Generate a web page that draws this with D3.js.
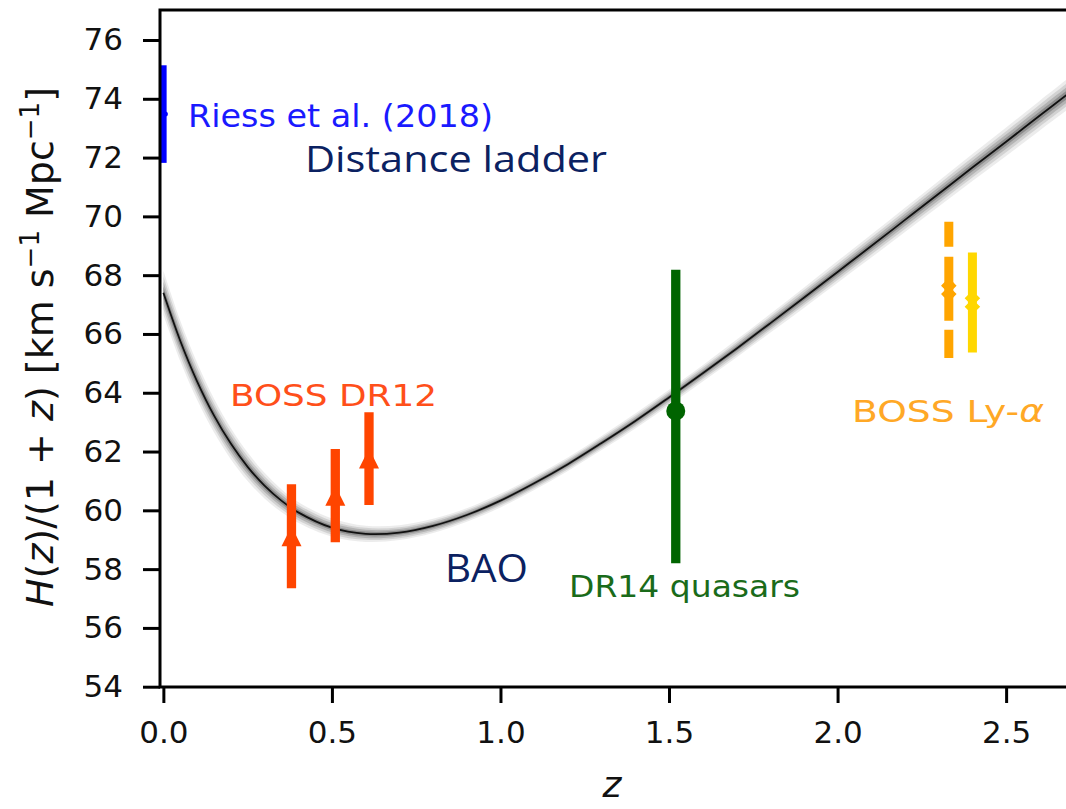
<!DOCTYPE html>
<html>
<head>
<meta charset="utf-8">
<script src="https://cdn.jsdelivr.net/npm/d3@7"></script>
<style>
  html, body { margin: 0; padding: 0; background: #fff; }
  svg { display: block; }
  text { font-family: "DejaVu Sans", sans-serif; }
</style>
</head>
<body>
<svg id="chart" width="1066" height="809"></svg>
<script>
// ---- tick values ----
const yTicks = [54, 56, 58, 60, 62, 64, 66, 68, 70, 72, 74, 76];
const xTicks = [0.0, 0.5, 1.0, 1.5, 2.0, 2.5];

// ---- best-fit model curve H(z)/(1+z) and its uncertainty half-width ----
const curveZ = [0.00, 0.05, 0.10, 0.15, 0.20, 0.25, 0.30, 0.35, 0.40, 0.50, 0.60, 0.70, 0.80, 0.90,
                1.00, 1.10, 1.20, 1.30, 1.40, 1.50, 1.60, 1.70, 1.80, 1.90, 2.00, 2.10, 2.20,
                2.30, 2.40, 2.50, 2.60, 2.70];
const curveH = [67.40, 65.77, 64.39, 63.23, 62.27, 61.48, 60.84, 60.33, 59.93, 59.41, 59.20, 59.24,
                59.47, 59.84, 60.33, 60.92, 61.57, 62.29, 63.04, 63.84, 64.66, 65.50, 66.36, 67.23,
                68.11, 68.99, 69.88, 70.77, 71.66, 72.54, 73.43, 74.31];
const bandHalf = [0.65, 0.60, 0.55, 0.50, 0.46, 0.42, 0.38, 0.34, 0.31, 0.27, 0.24, 0.22,
                  0.21, 0.20, 0.20, 0.20, 0.20, 0.21, 0.22, 0.23, 0.24, 0.26, 0.28, 0.30,
                  0.32, 0.34, 0.36, 0.38, 0.40, 0.42, 0.44, 0.46];

// ---- distance ladder (Riess et al. 2018) ----
const riessZ = [0.0];
const riessH = [73.48];
const riessErr = [1.66];

// ---- BOSS DR12 galaxy BAO ----
const bossZ = [0.38, 0.51, 0.61];
const bossH = [59.12, 60.50, 61.76];
const bossErr = [1.77, 1.59, 1.58];

// ---- DR14 quasars ----
const qsoZ = [1.52];
const qsoH = [63.38];
const qsoErrLow = [5.18];
const qsoErrHigh = [4.80];

// ---- BOSS Lyman-alpha (auto- and cross-correlation) ----
const lyaZ = [2.33, 2.40];
const lyaH = [67.50, 67.07];
const lyaErr = [2.32, 1.70];
const lyaColors = ["#ffa500", "#ffd700"];

// ---- layout ----
const svg = d3.select("#chart");
const plotLeft = 160, plotTop = 10, plotBottom = 687;

const x = d3.scaleLinear().domain([-0.01, 2.7]).range([plotLeft, plotLeft + 2.71 * 337.1]);
const y = d3.scaleLinear().domain([54, 76]).range([686.7, 40]);

svg.append("defs").append("clipPath").attr("id", "plotClip")
  .append("rect")
  .attr("x", plotLeft).attr("y", plotTop)
  .attr("width", 1066 - plotLeft).attr("height", plotBottom - plotTop);

const plot = svg.append("g").attr("clip-path", "url(#plotClip)");

// ---- uncertainty band around the model curve (soft, layered) ----
const curvePts = curveZ.map((z, i) => ({ z, h: curveH[i], b: bandHalf[i] }));
const smooth = d3.curveCatmullRom.alpha(0.5);
const bandLayers = [
  { k: 1.15, op: 0.10 },
  { k: 0.85, op: 0.15 },
  { k: 0.58, op: 0.22 },
  { k: 0.32, op: 0.34 }
];
bandLayers.forEach(L => {
  plot.append("path")
    .datum(curvePts)
    .attr("fill", "#444")
    .attr("fill-opacity", L.op)
    .attr("d", d3.area()
      .curve(smooth)
      .x(d => x(d.z))
      .y0(d => y(d.h - L.k * d.b))
      .y1(d => y(d.h + L.k * d.b)));
});
plot.append("path")
  .datum(curvePts)
  .attr("fill", "none")
  .attr("stroke", "#111")
  .attr("stroke-width", 1.8)
  .attr("d", d3.line().curve(smooth).x(d => x(d.z)).y(d => y(d.h)));

// ---- error bars ----
function vbar(g, z, lo, hi, color, width, dash) {
  const p = g.append("line")
    .attr("x1", x(z)).attr("x2", x(z))
    .attr("y1", y(hi)).attr("y2", y(lo))
    .attr("stroke", color).attr("stroke-width", width);
  if (dash) p.attr("stroke-dasharray", dash);
  return p;
}

// Riess
riessZ.forEach((z, i) => {
  vbar(plot, z, riessH[i] - riessErr[i], riessH[i] + riessErr[i], "#0000ff", 6.5);
  plot.append("circle").attr("cx", x(z) + 2).attr("cy", y(riessH[i])).attr("r", 2.5).attr("fill", "#0000ff");
});

// BOSS DR12 with upward-triangle markers
const tri = s => `M0,${-s / 2}L${s / 2},${s / 2}L${-s / 2},${s / 2}Z`;
bossZ.forEach((z, i) => {
  vbar(plot, z, bossH[i] - bossErr[i], bossH[i] + bossErr[i], "#ff4500", 9.3);
  plot.append("path")
    .attr("transform", `translate(${x(z)},${y(bossH[i])})`)
    .attr("d", tri(20))
    .attr("fill", "#ff4500");
});

// DR14 quasars
qsoZ.forEach((z, i) => {
  vbar(plot, z, qsoH[i] - qsoErrLow[i], qsoH[i] + qsoErrHigh[i], "#006400", 9.3);
  plot.append("circle").attr("cx", x(z)).attr("cy", y(qsoH[i])).attr("r", 9.5).attr("fill", "#006400");
});

// Lyman-alpha, first one dashed
const crossMark = s => `M${-s / 2},${-s / 2}L${s / 2},${s / 2}M${-s / 2},${s / 2}L${s / 2},${-s / 2}`;
lyaZ.forEach((z, i) => {
  vbar(plot, z, lyaH[i] - lyaErr[i], lyaH[i] + lyaErr[i], lyaColors[i], 9,
       i === 0 ? "25,10,64,9,30" : null);
  plot.append("path")
    .attr("transform", `translate(${x(z)},${y(lyaH[i])})`)
    .attr("d", crossMark(12))
    .attr("stroke", lyaColors[i]).attr("stroke-width", 5).attr("fill", "none");
});

// ---- axes ----
const yAxis = d3.axisLeft(y).tickValues(yTicks).tickSize(17).tickPadding(20).tickFormat(d3.format("d"));
const yG = svg.append("g").attr("transform", `translate(${plotLeft},0)`).call(yAxis);
const xAxis = d3.axisBottom(x).tickValues(xTicks).tickSize(16).tickPadding(18).tickFormat(d3.format(".1f"));
const xG = svg.append("g").attr("transform", `translate(0,${plotBottom})`).call(xAxis);
[yG, xG].forEach(g => {
  g.select(".domain").remove();
  g.selectAll(".tick line").attr("stroke", "#000").attr("stroke-width", 3);
  g.selectAll(".tick text").attr("fill", "#111").style("font-size", "31px")
    .style("font-family", "'DejaVu Sans', sans-serif");
});

// frame (spines)
svg.append("rect")
  .attr("x", plotLeft).attr("y", plotTop)
  .attr("width", x(2.7) - plotLeft).attr("height", plotBottom - plotTop)
  .attr("fill", "none").attr("stroke", "#000").attr("stroke-width", 3);

// ---- axis titles ----
svg.append("text")
  .attr("x", 612).attr("y", 797)
  .attr("text-anchor", "middle")
  .style("font-size", "36px").style("font-style", "italic")
  .attr("fill", "#111")
  .text("z");

const yl = svg.append("text")
  .attr("transform", "translate(53,347) rotate(-90)")
  .attr("text-anchor", "middle")
  .style("font-size", "38px")
  .attr("fill", "#111");
yl.append("tspan").style("font-style", "italic").text("H");
yl.append("tspan").text("(");
yl.append("tspan").style("font-style", "italic").text("z");
yl.append("tspan").text(")/(1 + ");
yl.append("tspan").style("font-style", "italic").text("z");
yl.append("tspan").text(") [km s");
yl.append("tspan").attr("dy", -14).style("font-size", "26px").text("\u22121");
yl.append("tspan").attr("dy", 14).text(" Mpc");
yl.append("tspan").attr("dy", -14).style("font-size", "26px").text("\u22121");
yl.append("tspan").attr("dy", 14).text("]");

// ---- annotations ----
function label(txt, x0, x1, base, size, color, family) {
  return svg.append("text")
    .attr("x", x0).attr("y", base)
    .attr("textLength", x1 - x0).attr("lengthAdjust", "spacingAndGlyphs")
    .style("font-size", size + "px")
    .style("font-family", family || "'DejaVu Sans', sans-serif")
    .attr("fill", color)
    .text(txt);
}
label("Riess et al.  (2018)", 188, 493, 127, 32, "#1a1aff");
label("Distance ladder", 305, 607, 172, 36, "#0b2161", "'Open Sans', sans-serif");
label("BOSS DR12", 230, 437, 406, 31, "#ff4f1a");
label("BAO", 445, 528, 582, 39, "#0b2161", "'Open Sans', sans-serif");
label("DR14 quasars", 569, 800, 597, 31, "#1a6b1a");
const lyaText = svg.append("text")
  .attr("x", 852).attr("y", 422)
  .attr("textLength", 192).attr("lengthAdjust", "spacingAndGlyphs")
  .style("font-size", "31px")
  .attr("fill", "#ffa826");
lyaText.append("tspan").text("BOSS Ly-");
lyaText.append("tspan").style("font-style", "italic").text("\u03b1");
</script>
</body>
</html>
